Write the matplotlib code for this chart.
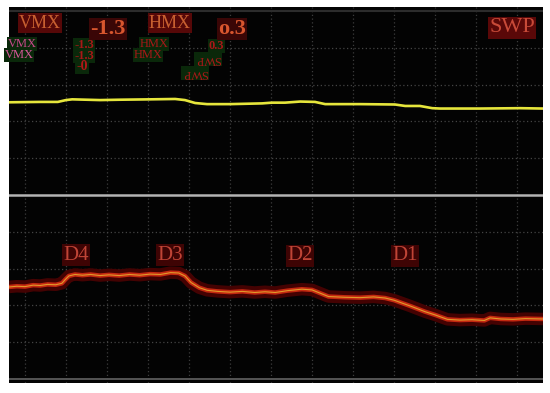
import matplotlib
matplotlib.use("Agg")
import matplotlib.pyplot as plt

# screen is 13 x 10.2 divisions, x in divisions from first grid line, y in divisions from centre line
ch1_x = [-0.39, 0.37, 0.80, 1.00, 1.15, 1.83, 2.32, 3.05, 3.66, 3.90, 4.15, 4.44, 5.00,
         5.78, 6.02, 6.34, 6.71, 7.07, 7.32, 8.17, 9.02, 9.27, 9.63, 9.93, 10.12, 11.10,
         12.07, 12.63]
ch1_y = [2.52, 2.53, 2.53, 2.58, 2.60, 2.58, 2.59, 2.60, 2.61, 2.58, 2.50, 2.47, 2.47,
         2.49, 2.51, 2.51, 2.54, 2.53, 2.47, 2.47, 2.46, 2.42, 2.42, 2.36, 2.35, 2.35,
         2.36, 2.35]

ch2_x = [-0.39, -0.2, 0.0, 0.2, 0.37, 0.55, 0.75, 0.9, 0.98, 1.07, 1.22, 1.4, 1.6, 1.83,
         2.05, 2.3, 2.55, 2.8, 3.05, 3.3, 3.55, 3.75, 3.9, 4.05, 4.25, 4.44, 4.7, 5.0,
         5.3, 5.6, 5.85, 6.1, 6.4, 6.75, 7.0, 7.4, 7.8, 8.17, 8.5, 8.78, 9.0, 9.4, 9.75,
         10.0, 10.3, 10.6, 10.9, 11.2, 11.34, 11.6, 11.9, 12.2, 12.63]
ch2_y = [-2.50, -2.48, -2.49, -2.45, -2.46, -2.43, -2.44, -2.40, -2.30, -2.20, -2.16,
         -2.18, -2.16, -2.19, -2.17, -2.19, -2.16, -2.18, -2.15, -2.16, -2.11, -2.12,
         -2.20, -2.38, -2.52, -2.59, -2.62, -2.64, -2.62, -2.65, -2.63, -2.65, -2.60,
         -2.56, -2.58, -2.76, -2.78, -2.79, -2.77, -2.80, -2.86, -3.02, -3.17, -3.26,
         -3.38, -3.40, -3.39, -3.41, -3.34, -3.37, -3.38, -3.36, -3.37]

cursor_labels = ["D4", "D3", "D2", "D1"]
cursor_px = [(76, 255), (170, 255), (300, 256), (405, 256)]

W, H = 550, 393
fig = plt.figure(figsize=(W / 100, H / 100), dpi=100)
fig.patch.set_facecolor("white")
ax = fig.add_axes([9 / W, 10 / H, 534 / W, 376 / H])
ax.set_facecolor("#030303")
ax.set_xlim(-0.39, 12.63)
ax.set_ylim(-5.11, 5.11)
for s in ax.spines.values():
    s.set_visible(False)
ax.set_xticks([])
ax.set_yticks([])

# graticule
for gx in range(13):
    ax.axvline(gx, color="#3c3c3c", lw=0.9, ls=(0, (1, 2)), zorder=1)
for gy in [-4, -3, -2, -1, 1, 2, 3, 4]:
    ax.axhline(gy, color="#444444", lw=0.9, ls=(0, (1, 2)), zorder=1)
ax.axhline(5, color="#2c2c2c", lw=1.5, zorder=1)
ax.axhline(-5.0, color="#555555", lw=1.4, zorder=1)
ax.axhline(0, color="#b4b4b4", lw=1.8, zorder=2)

# traces
ax.plot(ch1_x, ch1_y, color="#e6e63c", lw=1.9, zorder=4)
ax.plot(ch2_x, ch2_y, color="#440202", lw=9, solid_capstyle="butt", zorder=3)
ax.plot(ch2_x, ch2_y, color="#c42810", lw=3.2, zorder=4)
ax.plot(ch2_x, ch2_y, color="#e09a2a", lw=0.8, zorder=5)


def label(x, y, s, color, bg, size, weight="normal", rot=0):
    fig.text(x / W, 1 - y / H, s, color=color, fontsize=size, weight=weight,
             family="Liberation Serif", ha="center", va="center", rotation=rot,
             bbox=dict(boxstyle="square,pad=0.06", fc=bg, ec="none"))


# ghost copies of the readout
label(22, 44, "VMX", "#c8488a", "#0a280a", 9)
label(84, 45, "-1.3", "#a81818", "#0a280a", 9, "bold")
label(154, 44, "HMX", "#a81818", "#0a280a", 9)
label(216, 46, "0.3", "#a81818", "#0a280a", 9, "bold")
label(19, 55, "VMX", "#d8589a", "#0a280a", 9)
label(84, 56, "-1.3", "#a81818", "#0a280a", 9, "bold")
label(148, 55, "HMX", "#a81818", "#0a280a", 9)
label(208, 59, "SWP", "#a81818", "#0a280a", 9, rot=180)
label(82, 67, "-0", "#b01818", "#0a280a", 10, "bold")
label(195, 73, "SWP", "#a81818", "#0a280a", 9, rot=180)

# main readout
label(40, 23, "VMX", "#c86030", "#560808", 13)
label(108, 29, "-1.3", "#d8562e", "#3a0606", 16, "bold")
label(170, 23, "HMX", "#c86030", "#560808", 13)
label(232, 29, "o.3", "#d8562e", "#3a0606", 16, "bold")
label(512, 28, "SWP", "#c84a38", "#5a0808", 16)

for s, (px, py) in zip(cursor_labels, cursor_px):
    label(px, py, s, "#c04436", "#3e0404", 15)

fig.savefig("out.png", dpi=100, facecolor="white")
